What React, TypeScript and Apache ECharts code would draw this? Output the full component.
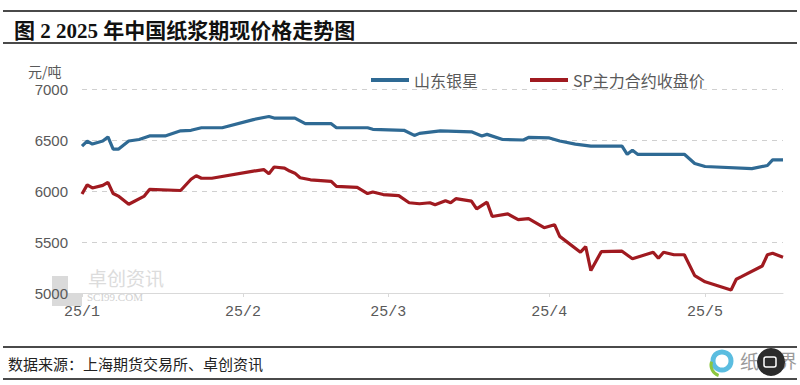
import React, { useEffect, useRef } from "react";
import * as echarts from "echarts";

const blueName = "山东银星";
const redName = "SP主力合约收盘价";

const blueDates = [
  "2025-01-01", "2025-01-02", "2025-01-03", "2025-01-05", "2025-01-06", "2025-01-07",
  "2025-01-08", "2025-01-10", "2025-01-12", "2025-01-14", "2025-01-17", "2025-01-20",
  "2025-01-22", "2025-01-24", "2025-01-28", "2025-02-03", "2025-02-06", "2025-02-07",
  "2025-02-11", "2025-02-13", "2025-02-18", "2025-02-19", "2025-02-25", "2025-02-26",
  "2025-03-04", "2025-03-06", "2025-03-07", "2025-03-11", "2025-03-17", "2025-03-19",
  "2025-03-20", "2025-03-23", "2025-03-27", "2025-03-28", "2025-04-01", "2025-04-03",
  "2025-04-06", "2025-04-09", "2025-04-15", "2025-04-16", "2025-04-17", "2025-04-18",
  "2025-04-27", "2025-04-29", "2025-05-01", "2025-05-10", "2025-05-13", "2025-05-14",
  "2025-05-16",
];
const blueValues = [
  6440, 6490, 6460, 6490, 6530, 6410,
  6410, 6490, 6505, 6540, 6540, 6590,
  6595, 6620, 6620, 6700, 6730, 6715,
  6715, 6660, 6660, 6620, 6620, 6605,
  6595, 6545, 6565, 6590, 6580, 6540,
  6555, 6505, 6500, 6525, 6520, 6490,
  6460, 6440, 6440, 6360, 6400, 6360,
  6360, 6270, 6240, 6220, 6250, 6305,
  6305,
];

const redDates = [
  "2025-01-01", "2025-01-02", "2025-01-03", "2025-01-05", "2025-01-06", "2025-01-07",
  "2025-01-08", "2025-01-10", "2025-01-13", "2025-01-14", "2025-01-20", "2025-01-22",
  "2025-01-23", "2025-01-24", "2025-01-26", "2025-02-03", "2025-02-05", "2025-02-06",
  "2025-02-07", "2025-02-09", "2025-02-10", "2025-02-11", "2025-02-12", "2025-02-14",
  "2025-02-18", "2025-02-19", "2025-02-23", "2025-02-25", "2025-02-26", "2025-02-28",
  "2025-03-03", "2025-03-05", "2025-03-07", "2025-03-09", "2025-03-10", "2025-03-12",
  "2025-03-13", "2025-03-14", "2025-03-17", "2025-03-18", "2025-03-20", "2025-03-21",
  "2025-03-24", "2025-03-26", "2025-03-28", "2025-03-31", "2025-04-02", "2025-04-03",
  "2025-04-07", "2025-04-08", "2025-04-09", "2025-04-11", "2025-04-15", "2025-04-17",
  "2025-04-21", "2025-04-22", "2025-04-23", "2025-04-25", "2025-04-27", "2025-04-29",
  "2025-05-01", "2025-05-06", "2025-05-07", "2025-05-08", "2025-05-12", "2025-05-13",
  "2025-05-14", "2025-05-16",
];
const redValues = [
  5970, 6060, 6030, 6055, 6085, 5975,
  5950, 5870, 5950, 6015, 6005, 6115,
  6150, 6125, 6125, 6195, 6210, 6170,
  6235, 6225, 6195, 6175, 6130, 6110,
  6095, 6045, 6035, 5975, 5990, 5965,
  5955, 5885, 5875, 5885, 5865, 5905,
  5885, 5925, 5900, 5825, 5890, 5750,
  5775, 5720, 5730, 5640, 5670, 5555,
  5400, 5455, 5220, 5405, 5410, 5335,
  5400, 5340, 5400, 5375, 5375, 5170,
  5110, 5030, 5135, 5160, 5265, 5375,
  5390, 5350,
];

const yTicks = [5000, 5500, 6000, 6500, 7000];
const titleText = "图 2 2025 年中国纸浆期现价格走势图";
const unitText = "元/吨";
const sourceText = "数据来源：上海期货交易所、卓创资讯";

export default function App() {
  const ref = useRef<HTMLDivElement>(null);
  useEffect(() => {
    if (!ref.current) return;
    const chart = echarts.init(ref.current, undefined, { renderer: "svg" });
    const blueData = blueDates.map((d, i) => [d, blueValues[i]]);
    const redData = redDates.map((d, i) => [d, redValues[i]]);
    const gray = "#595959";
    chart.setOption({
      animation: false,
      backgroundColor: "#ffffff",
      grid: { left: 82, right: 17, top: 89, bottom: 92, containLabel: false },
      legend: {
        left: 366,
        top: 67,
        itemWidth: 38,
        itemHeight: 4,
        itemGap: 52,
        icon: "rect",
        textStyle: { color: gray, fontSize: 16, fontFamily: '"Noto Sans CJK SC", sans-serif' },
        data: [blueName, redName],
      },
      xAxis: {
        type: "time",
        min: "2025-01-01",
        max: "2025-05-16",
        splitNumber: 5,
        z: 5,
        axisLine: { show: true, lineStyle: { color: "#d9d9d9", width: 1 } },
        axisTick: { show: true, length: 4, lineStyle: { color: "#d9d9d9" } },
        minorTick: { show: false },
        splitLine: { show: false },
        axisLabel: {
          color: gray,
          fontSize: 15,
          fontFamily: '"Liberation Mono", monospace',
          margin: 12,
          showMaxLabel: false,
          hideOverlap: true,
          formatter: (v: number) => {
            const d = new Date(v);
            return `25/${d.getMonth() + 1}`;
          },
        },
      },
      yAxis: {
        type: "value",
        min: yTicks[0],
        max: yTicks[yTicks.length - 1],
        interval: 500,
        z: 5,
        axisLine: { show: false },
        axisTick: { show: false },
        axisLabel: {
          color: gray,
          fontSize: 15,
          fontFamily: '"Liberation Sans", sans-serif',
          margin: 14,
          formatter: (v: number) => String(v),
        },
        splitLine: { show: true, lineStyle: { color: "#d0d0d0", type: [5, 5], width: 1 } },
      },
      series: [
        {
          name: blueName,
          type: "line",
          data: blueData,
          showSymbol: false,
          symbol: "none",
          lineStyle: { color: "#2f6a94", width: 3.2 },
          itemStyle: { color: "#2f6a94" },
          z: 6,
        },
        {
          name: redName,
          type: "line",
          data: redData,
          showSymbol: false,
          symbol: "none",
          lineStyle: { color: "#a01a20", width: 3.2 },
          itemStyle: { color: "#a01a20" },
          z: 6,
        },
      ],
      graphic: [
        { type: "line", shape: { x1: 3, y1: 11, x2: 797, y2: 11 }, style: { stroke: "#4a4a4a", lineWidth: 2 } },
        {
          type: "text",
          x: 14,
          y: 31,
          style: {
            text: titleText,
            fill: "#111111",
            font: 'bold 21px "Liberation Serif", "Noto Sans CJK SC", serif',
            verticalAlign: "middle",
          },
        },
        { type: "line", shape: { x1: 3, y1: 43, x2: 797, y2: 43 }, style: { stroke: "#4a4a4a", lineWidth: 2 } },
        {
          type: "text",
          x: 28,
          y: 71,
          style: { text: unitText, fill: gray, font: '14px "Noto Sans CJK SC", sans-serif', verticalAlign: "middle" },
        },
        // watermark (below axes)
        { type: "rect", z: -10, shape: { x: 52, y: 276, width: 16, height: 30 }, style: { fill: "#dadada" } },
        { type: "rect", z: -10, shape: { x: 68, y: 293, width: 14, height: 13 }, style: { fill: "#dadada" } },
        {
          type: "text",
          x: 88,
          y: 277,
          z: -10,
          style: { text: "卓创资讯", fill: "#dcdcdc", font: '19px "Noto Sans CJK SC", sans-serif', verticalAlign: "middle" },
        },
        {
          type: "text",
          x: 87,
          y: 297,
          z: -10,
          style: { text: "SCI99.COM", fill: "#d0d0d0", font: '11px "Liberation Serif", serif', verticalAlign: "middle" },
        },
        { type: "line", shape: { x1: 3, y1: 347, x2: 797, y2: 347 }, style: { stroke: "#4a4a4a", lineWidth: 2 } },
        {
          type: "text",
          x: 8,
          y: 363,
          style: { text: sourceText, fill: "#222222", font: '15px "Noto Sans CJK SC", sans-serif', verticalAlign: "middle" },
        },
        { type: "line", shape: { x1: 3, y1: 379, x2: 797, y2: 379 }, style: { stroke: "#4a4a4a", lineWidth: 2 } },
        // logo
        { type: "arc", shape: { cx: 722, cy: 361, r: 9, startAngle: 0, endAngle: Math.PI * 2 }, style: { stroke: "#5bbde0", lineWidth: 5, fill: "none" } },
        { type: "arc", shape: { cx: 722, cy: 365, r: 11, startAngle: Math.PI * 0.6, endAngle: Math.PI * 1.1 }, style: { stroke: "#8cc63f", lineWidth: 3, fill: "none" } },
        {
          type: "text",
          x: 740,
          y: 360,
          style: { text: "纸", fill: "#9a9a9a", font: '19px "Noto Sans CJK SC", sans-serif', verticalAlign: "middle" },
        },
        {
          type: "text",
          x: 779,
          y: 360,
          style: { text: "界", fill: "#9a9a9a", font: '18px "Noto Sans CJK SC", sans-serif', verticalAlign: "middle" },
        },
        { type: "circle", shape: { cx: 771, cy: 362, r: 14 }, style: { fill: "#2b2b2b" } },
        { type: "rect", shape: { x: 764, y: 357, width: 12, height: 10, r: 2 }, style: { stroke: "#ffffff", lineWidth: 1.5, fill: "none" } },
      ],
    });
    return () => chart.dispose();
  }, []);
  return (
    <div
      ref={ref}
      style={{ position: "fixed", left: 0, top: 0, width: 800, height: 385, background: "#fff" }}
    />
  );
}
